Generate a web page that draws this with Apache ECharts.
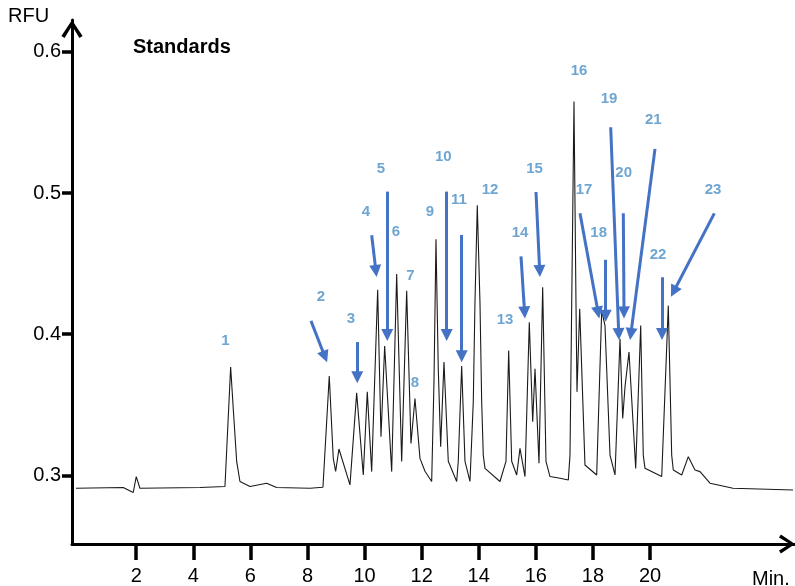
<!DOCTYPE html>
<html>
<head>
<meta charset="utf-8">
<script src="https://cdn.jsdelivr.net/npm/echarts@6/dist/echarts.min.js"></script>
<style>html,body{margin:0;padding:0;background:#fff;}#c{width:795px;height:586px;}</style>
</head>
<body>
<div id="c"></div>
<script>
// Chromatogram trace (minutes, RFU)
const traceTime = [-0.112,1.545,1.896,2.001,2.130,4.233,5.109,5.308,5.399,5.519,5.634,5.985,6.570,6.920,8.087,8.542,8.763,8.903,8.987,9.103,9.489,9.723,9.955,10.095,10.249,10.459,10.575,10.704,10.950,11.125,11.300,11.475,11.626,11.766,11.941,12.117,12.351,12.432,12.502,12.582,12.666,12.782,12.933,13.227,13.283,13.402,13.518,13.693,13.809,13.868,13.949,14.043,14.103,14.159,14.219,14.744,14.954,15.049,15.154,15.329,15.445,15.620,15.771,15.890,15.971,16.111,16.240,16.356,16.496,16.847,17.138,17.197,17.337,17.408,17.442,17.537,17.722,18.132,18.308,18.423,18.599,18.774,18.949,19.044,19.124,19.264,19.499,19.674,19.764,19.825,20.410,20.641,20.760,20.816,21.111,21.342,21.577,21.752,22.102,22.908,25.011];
const traceRFU = [0.2908,0.2913,0.2878,0.2991,0.2908,0.2913,0.2920,0.3767,0.3473,0.3099,0.2956,0.2920,0.2944,0.2913,0.2908,0.2915,0.3704,0.3120,0.3028,0.3186,0.2932,0.3584,0.3002,0.3591,0.3026,0.4315,0.3273,0.3916,0.3026,0.4426,0.3097,0.4308,0.3226,0.3544,0.3120,0.3028,0.2956,0.3664,0.4673,0.3755,0.3203,0.3803,0.3099,0.2956,0.3099,0.3774,0.3099,0.2956,0.3522,0.4228,0.4913,0.4228,0.3522,0.3141,0.3049,0.2956,0.3099,0.3884,0.3099,0.3002,0.3191,0.2991,0.4085,0.3379,0.3755,0.3085,0.4332,0.3099,0.2991,0.2979,0.2967,0.3143,0.5649,0.4202,0.3591,0.4179,0.3073,0.3002,0.4167,0.4061,0.3143,0.3002,0.3967,0.3402,0.3626,0.3873,0.3049,0.4061,0.3143,0.3049,0.2991,0.4202,0.3143,0.3037,0.3002,0.3132,0.3037,0.3026,0.2944,0.2908,0.2896];

// Tick values
const xTicks = [2,4,6,8,10,12,14,16,18,20];
const yTicks = [0.3,0.4,0.5,0.6];

// Peak labels (name, minutes, RFU)
const peakNames = ['1','2','3','4','5','6','7','8','9','10','11','12','13','14','15','16','17','18','19','20','21','22','23'];
const peakLabelX = [5.126,8.472,9.523,10.049,10.575,11.100,11.608,11.766,12.292,12.758,13.308,14.394,14.919,15.445,15.953,17.512,17.687,18.203,18.564,19.079,20.116,20.280,22.207];
const peakLabelY = [0.3953,0.4264,0.4108,0.4867,0.5174,0.4722,0.4415,0.3656,0.4867,0.5255,0.4948,0.5019,0.4101,0.4715,0.5174,0.5866,0.5019,0.4715,0.5667,0.5146,0.5520,0.4560,0.5019];

// Pointer arrows (start -> end), minutes / RFU
const arrowPeaks = ['2','3','4','5','10','11','14','15','17','18','19','20','21','22','23'];
const arrowX0 = [8.122,9.744,10.249,10.795,12.877,13.402,15.480,16.006,17.547,18.448,18.623,19.065,20.175,20.420,22.253];
const arrowY0 = [0.4094,0.3944,0.4701,0.5010,0.5010,0.4703,0.4551,0.5007,0.4856,0.4527,0.5466,0.4856,0.5313,0.4403,0.4856];
const arrowX1 = [8.611,9.744,10.397,10.795,12.877,13.402,15.606,16.135,18.183,18.448,18.905,19.089,19.329,20.420,20.830];
const arrowY1 = [0.3840,0.3695,0.4448,0.3994,0.3994,0.3844,0.4154,0.4448,0.4153,0.4131,0.4001,0.4154,0.4001,0.4001,0.4302];

const chart = echarts.init(document.getElementById('c'), null, {renderer: 'canvas'});
const chevron = 'path://M0,15 L10,0 L20,15 L17,17 L10,5.5 L3,17 Z';
const FONT = '"Liberation Sans", Arial, sans-serif';

const option = {
  animation: false,
  backgroundColor: '#fff',
  grid: {left: 72, right: 0, top: 20, bottom: 40, containLabel: false},
  xAxis: {
    type: 'value', min: -0.25, max: 25.08,
    splitLine: {show: false},
    axisLine: {onZero: false, lineStyle: {color: '#000', width: 3}, symbol: ['none', chevron], symbolSize: [22, 16], symbolOffset: [0, -8]},
    axisTick: {show: true, customValues: xTicks, length: 16, lineStyle: {color: '#000', width: 3.5}},
    axisLabel: {customValues: xTicks, margin: 22, color: '#000', fontSize: 20, fontFamily: FONT},
    minorTick: {show: false}
  },
  yAxis: {
    type: 'value', min: 0.2513, max: 0.6226,
    splitLine: {show: false},
    axisLine: {onZero: false, lineStyle: {color: '#000', width: 3}, symbol: ['none', chevron], symbolSize: [22, 18], symbolOffset: [0, -9]},
    axisTick: {show: true, customValues: yTicks, length: 10, lineStyle: {color: '#000', width: 3.5}},
    axisLabel: {customValues: yTicks, margin: 11, color: '#000', fontSize: 20, fontFamily: FONT,
      formatter: v => v.toFixed(1)}
  },
  graphic: [
    {type: 'text', left: 8, top: 6, style: {text: 'RFU', fill: '#000', font: '20px ' + FONT}},
    {type: 'text', left: 133, top: 37, style: {text: 'Standards', fill: '#000', font: 'bold 20px ' + FONT}},
    {type: 'text', left: 752, top: 569, style: {text: 'Min.', fill: '#000', font: '20px ' + FONT}}
  ],
  series: [
    {
      type: 'line', name: 'trace',
      data: traceTime.map((t, i) => [t, traceRFU[i]]),
      showSymbol: false, symbol: 'none',
      lineStyle: {color: '#1a1a1a', width: 1.1},
      silent: true, z: 2
    },
    {
      type: 'scatter', name: 'labels',
      data: peakNames.map((n, i) => ({name: n, value: [peakLabelX[i], peakLabelY[i]]})),
      symbolSize: 1, itemStyle: {color: 'rgba(0,0,0,0)'},
      label: {show: true, position: 'inside', formatter: '{b}', color: '#4a8fc5', fontSize: 15, fontWeight: 'bold', fontFamily: FONT},
      silent: true, z: 3,
      markLine: {
        silent: true, animation: false,
        symbol: ['none', 'triangle'], symbolSize: 12,
        label: {show: false},
        lineStyle: {color: '#4472c4', width: 3, type: 'solid'},
        emphasis: {disabled: true},
        data: arrowPeaks.map((p, i) => [{coord: [arrowX0[i], arrowY0[i]]}, {coord: [arrowX1[i], arrowY1[i]]}])
      }
    }
  ]
};
chart.setOption(option);
</script>
</body>
</html>
